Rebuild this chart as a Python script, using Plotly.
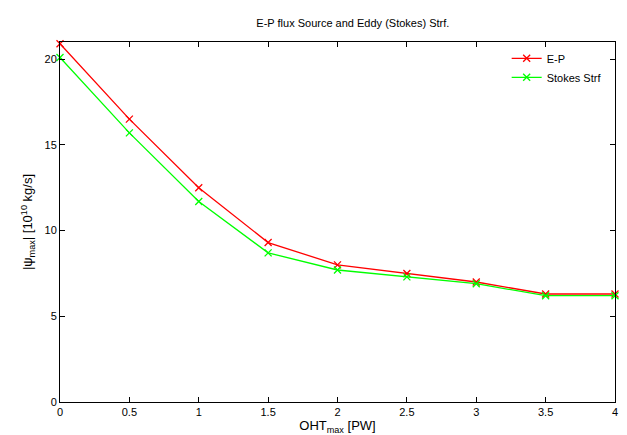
import plotly.graph_objects as go

oht = [0, 0.5, 1, 1.5, 2, 2.5, 3, 3.5, 4]
ep = [20.9, 16.5, 12.5, 9.3, 8.0, 7.5, 7.0, 6.3, 6.3]
stokes = [20.1, 15.7, 11.7, 8.7, 7.7, 7.3, 6.9, 6.2, 6.2]

fig = go.Figure()
fig.add_trace(go.Scatter(x=oht, y=ep, name="E-P", mode="lines+markers", cliponaxis=False,
                         line=dict(color="#ff0000", width=1.3),
                         marker=dict(symbol="x-thin", size=7, line=dict(color="#ff0000", width=1.3))))
fig.add_trace(go.Scatter(x=oht, y=stokes, name="Stokes Strf", mode="lines+markers", cliponaxis=False,
                         line=dict(color="#00ff00", width=1.3),
                         marker=dict(symbol="x-thin", size=7, line=dict(color="#00ff00", width=1.3))))

ax = dict(showgrid=False, zeroline=False, showline=True, mirror="ticks", linecolor="black",
          ticks="inside", ticklen=5, tickcolor="black", tickfont=dict(size=11))
fig.update_layout(
    width=627, height=435, plot_bgcolor="white", paper_bgcolor="white",
    font=dict(family="Liberation Sans, Arial", size=11, color="black"),
    title=dict(text="E-P flux Source and Eddy (Stokes) Strf.", x=0.55, y=0.975, font=dict(size=11)),
    margin=dict(l=52, r=20, t=34, b=41),
    xaxis=dict(ax, range=[0, 4], dtick=0.5, title=dict(text="OHT<sub>max</sub> [PW]", standoff=2)),
    yaxis=dict(ax, range=[0, 21], dtick=5, title=dict(text="|ψ<sub>max</sub>| [10<sup>10</sup> kg/s]", standoff=8)),
    legend=dict(x=0.985, y=0.995, xanchor="right", yanchor="top", bgcolor="rgba(0,0,0,0)",
                font=dict(size=11), tracegroupgap=0, itemwidth=30),
)
fig.write_html("out.html")
